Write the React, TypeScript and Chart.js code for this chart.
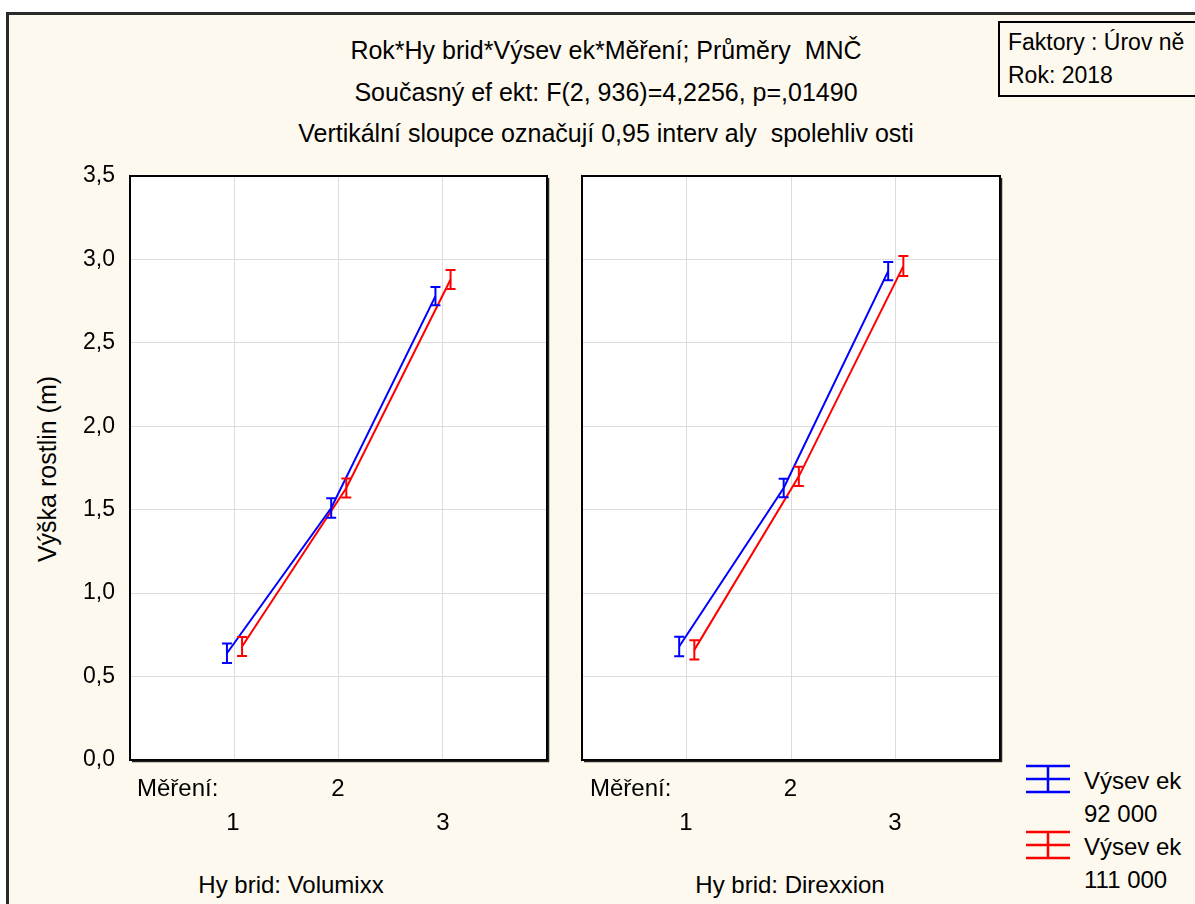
import React, { useEffect, useRef } from "react";
import { Chart, registerables } from "chart.js";

Chart.register(...registerables);

// ---- data ----
const measurements = ["1", "2", "3"];
const hybrids = ["Volumixx", "Direxxion"];
const seriesNames = ["Výsev ek\n92 000", "Výsev ek\n111 000"];
const seriesColors = ["#0000ff", "#ff0000"];
const volumixx92 = [0.64, 1.51, 2.78];
const volumixx92CI = [0.058, 0.058, 0.055];
const volumixx111 = [0.68, 1.63, 2.88];
const volumixx111CI = [0.057, 0.057, 0.057];
const direxxion92 = [0.68, 1.63, 2.93];
const direxxion92CI = [0.058, 0.055, 0.055];
const direxxion111 = [0.66, 1.7, 2.96];
const direxxion111CI = [0.058, 0.058, 0.06];
const yTickValues = [0, 0.5, 1, 1.5, 2, 2.5, 3, 3.5];
const titleLines = [
  "Rok*Hy brid*Výsev ek*Měření; Průměry  MNČ",
  "Současný ef ekt: F(2, 936)=4,2256, p=,01490",
  "Vertikální sloupce označují 0,95 interv aly  spolehliv osti",
];
const yTitle = "Výška rostlin (m)";
const factorLines = ["Faktory : Úrov ně", "Rok: 2018"];

const FONT = "'Liberation Sans', Arial, sans-serif";
const SHIFT = [-0.07, 0.075];

const errorBarPlugin = {
  id: "errorBars",
  afterDatasetsDraw(chart: any) {
    const ctx = chart.ctx;
    const ys = chart.scales.y;
    chart.data.datasets.forEach((ds: any, di: number) => {
      const meta = chart.getDatasetMeta(di);
      meta.data.forEach((pt: any, i: number) => {
        const v = ds.data[i].y;
        const e = ds.ci[i];
        const top = ys.getPixelForValue(v + e);
        const bot = ys.getPixelForValue(v - e);
        const x = pt.x;
        ctx.save();
        ctx.strokeStyle = ds.borderColor;
        ctx.lineWidth = 2;
        ctx.beginPath();
        ctx.moveTo(x, top);
        ctx.lineTo(x, bot);
        ctx.moveTo(x - 5, top);
        ctx.lineTo(x + 5, top);
        ctx.moveTo(x - 5, bot);
        ctx.lineTo(x + 5, bot);
        ctx.stroke();
        ctx.restore();
      });
    });
  },
};

const borderPlugin = {
  id: "panelBorder",
  afterDraw(chart: any) {
    const { left, right, top, bottom } = chart.chartArea;
    const ctx = chart.ctx;
    ctx.save();
    ctx.strokeStyle = "#000";
    ctx.lineWidth = 2;
    ctx.strokeRect(left, top, right - left, bottom - top);
    ctx.lineWidth = 1.5;
    ctx.strokeStyle = "#222";
    ctx.beginPath();
    ctx.moveTo(right + 1.5, top + 2);
    ctx.lineTo(right + 1.5, bottom + 1.5);
    ctx.lineTo(left + 2, bottom + 1.5);
    ctx.stroke();
    ctx.restore();
  },
};

const bgPlugin = {
  id: "areaBg",
  beforeDraw(chart: any) {
    const { left, right, top, bottom } = chart.chartArea;
    const ctx = chart.ctx;
    ctx.save();
    ctx.fillStyle = "#ffffff";
    ctx.fillRect(left, top, right - left, bottom - top);
    ctx.restore();
  },
};

const zeroPad = (s: any) => {
  s.paddingTop = 0;
  s.paddingBottom = 0;
  s.paddingLeft = 0;
  s.paddingRight = 0;
};

function Panel(props: {
  left: number;
  width: number;
  axisWidth: number;
  padRight: number;
  showY: boolean;
  s1: number[];
  c1: number[];
  s2: number[];
  c2: number[];
}) {
  const ref = useRef<HTMLCanvasElement>(null);
  useEffect(() => {
    if (!ref.current) return;
    const mk = (vals: number[], ci: number[], k: number) => ({
      label: seriesNames[k],
      data: measurements.map((m, i) => ({ x: Number(m) + SHIFT[k], y: vals[i] })),
      ci,
      borderColor: seriesColors[k],
      backgroundColor: seriesColors[k],
      borderWidth: 2,
      pointRadius: 0,
      tension: 0,
    });
    const chart = new Chart(ref.current, {
      type: "line",
      data: {
        datasets: [mk(props.s1, props.c1, 0), mk(props.s2, props.c2, 1)] as any,
      },
      options: {
        animation: false,
        responsive: false,
        maintainAspectRatio: false,
        layout: { padding: { top: 26, right: props.padRight, bottom: 15, left: 0 } },
        plugins: { legend: { display: false }, tooltip: { enabled: false }, title: { display: false } },
        scales: {
          x: {
            type: "linear",
            min: 0,
            max: measurements.length + 1,
            ticks: { display: false, stepSize: 1 },
            grid: { color: "#dcdcdc", lineWidth: 1, drawTicks: false },
            border: { display: false },
            afterFit: (s: any) => {
              s.height = 0;
              zeroPad(s);
            },
          },
          y: {
            type: "linear",
            min: yTickValues[0],
            max: yTickValues[yTickValues.length - 1],
            afterBuildTicks: (s: any) => {
              s.ticks = yTickValues.map((v) => ({ value: v }));
            },
            ticks: {
              display: props.showY,
              color: "#000",
              padding: 15,
              font: { family: FONT, size: 23 },
              callback: (v: any) => Number(v).toFixed(1).replace(".", ","),
            },
            grid: { color: "#dcdcdc", lineWidth: 1, drawTicks: false },
            border: { display: false },
            afterFit: (s: any) => {
              s.width = props.axisWidth;
              zeroPad(s);
            },
          },
        },
      } as any,
      plugins: [bgPlugin, errorBarPlugin, borderPlugin],
    });
    return () => chart.destroy();
  }, []);
  return (
    <canvas
      ref={ref}
      width={props.width}
      height={625}
      style={{ position: "absolute", left: props.left, top: 150, width: props.width, height: 625 }}
    />
  );
}

const txt = (s: any): React.CSSProperties => ({
  position: "absolute",
  fontFamily: FONT,
  fontSize: 25,
  color: "#000",
  whiteSpace: "pre",
  lineHeight: "28px",
  ...s,
});

function Legend() {
  const glyph = (y: number, color: string) => (
    <g stroke={color} strokeWidth={2.5}>
      <line x1={0} x2={44} y1={y} y2={y} />
      <line x1={0} x2={44} y1={y + 13} y2={y + 13} />
      <line x1={0} x2={44} y1={y + 26} y2={y + 26} />
      <line x1={22} x2={22} y1={y} y2={y + 26} />
    </g>
  );
  return (
    <svg style={{ position: "absolute", left: 1026, top: 760 }} width={50} height={110}>
      {glyph(6, seriesColors[0])}
      {glyph(72, seriesColors[1])}
    </svg>
  );
}

export default function App() {
  const bottomLabels = (cx: (i: number) => number, hx: number, name: string, mx: number) => (
    <>
      <div style={txt({ left: mx, top: 788, transform: "translateY(-50%)", fontSize: 24 })}>Měření:</div>
      {measurements.map((m, i) => (
        <div
          key={m}
          style={txt({ left: cx(i), top: i % 2 === 1 ? 788 : 822, transform: "translate(-50%,-50%)", fontSize: 24 })}
        >
          {m}
        </div>
      ))}
      <div style={txt({ left: hx, top: 885, transform: "translate(-50%,-50%)", fontSize: 24 })}>
        {"Hy brid: " + name}
      </div>
    </>
  );
  return (
    <div
      style={{
        position: "absolute",
        left: 0,
        top: 0,
        width: 1195,
        height: 904,
        background: "#ffffff",
        overflow: "hidden",
      }}
    >
      <div
        style={{
          position: "absolute",
          left: 6,
          top: 12,
          width: 1300,
          height: 1000,
          background: "#fdf9ee",
          borderLeft: "3px solid #2a2a2a",
          borderTop: "3px solid #2a2a2a",
        }}
      />
      {titleLines.map((t, i) => (
        <div key={i} style={txt({ left: 606, top: 50 + i * 41.5, transform: "translate(-50%,-50%)" })}>
          {t}
        </div>
      ))}
      <div
        style={{
          position: "absolute",
          left: 998,
          top: 21,
          width: 300,
          height: 72,
          border: "2.5px solid #000",
          background: "#fdf9ee",
        }}
      />
      {factorLines.map((t, i) => (
        <div key={i} style={txt({ left: 1008, top: 42 + i * 33, transform: "translateY(-50%)", fontSize: 23 })}>
          {t}
        </div>
      ))}
      <div
        style={txt({
          left: 47,
          top: 469,
          transform: "translate(-50%,-50%) rotate(-90deg)",
        })}
      >
        {yTitle}
      </div>
      <Panel left={0} width={560} axisWidth={130} padRight={13} showY={true} s1={volumixx92} c1={volumixx92CI} s2={volumixx111} c2={volumixx111CI} />
      <Panel left={570} width={440} axisWidth={12} padRight={10} showY={false} s1={direxxion92} c1={direxxion92CI} s2={direxxion111} c2={direxxion111CI} />
      {bottomLabels((i) => 233 + i * 105, 291, hybrids[0], 137)}
      {bottomLabels((i) => 686 + i * 104.5, 790, hybrids[1], 590)}
      <Legend />
      {seriesNames.map((n, k) => (
        <div key={k} style={txt({ left: 1084, top: 764 + k * 66, lineHeight: "33px", fontSize: 24 })}>
          {n}
        </div>
      ))}
    </div>
  );
}
